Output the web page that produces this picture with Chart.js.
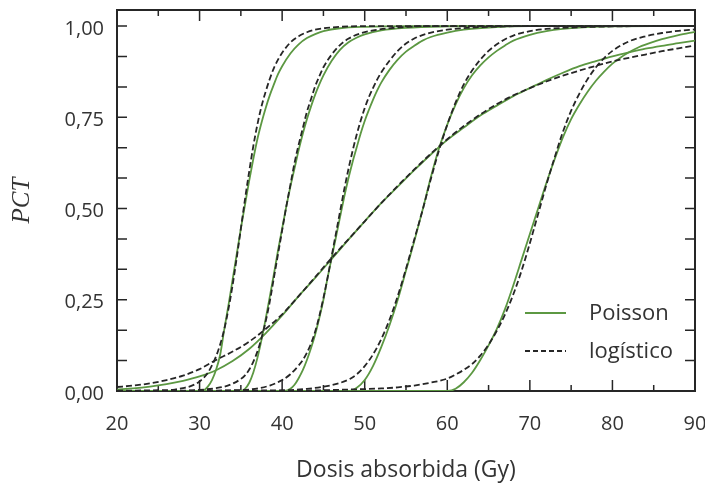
<!DOCTYPE html>
<html>
<head>
<meta charset="utf-8">
<script src="https://cdn.jsdelivr.net/npm/chart.js@4.4.1/dist/chart.umd.min.js"></script>
<style>
    html, body { margin: 0; padding: 0; background: #fff; }
    #wrap { width: 705px; height: 484px; }
</style>
</head>
<body>
<div id="wrap"><canvas id="pctChart" width="705" height="484"></canvas></div>
<script>
// --- Data (dose in Gy, PCT 0..1) ---

let xTickValues = [20, 30, 40, 50, 60, 70, 80, 90];
let yTickValues = [0, 0.25, 0.5, 0.75, 1];
let yTickLabels = ['0,00', '0,25', '0,50', '0,75', '1,00'];

// curve 1
let p1Dose = [20, 30.3, 31, 31.5, 32, 32.5, 33, 33.5, 34, 34.5, 35, 35.5, 36, 36.5, 37, 37.5, 38, 38.5, 39, 39.5, 40, 41, 42, 43, 44, 45, 47, 50, 55, 90];
let p1Pct  = [0, 0, 0.012, 0.03, 0.058, 0.1, 0.17, 0.235, 0.305, 0.375, 0.445, 0.51, 0.575, 0.635, 0.69, 0.735, 0.775, 0.81, 0.84, 0.868, 0.89, 0.925, 0.95, 0.967, 0.978, 0.986, 0.994, 0.998, 1, 1];
let l1Dose = [20, 25, 27, 28, 29, 30, 31, 31.5, 32, 32.5, 33, 33.5, 34, 34.5, 35, 35.5, 36, 36.5, 37, 37.5, 38, 38.5, 39, 39.5, 40, 41, 42, 43, 44, 46, 50, 90];
let l1Pct  = [0.001, 0.002, 0.004, 0.008, 0.014, 0.026, 0.05, 0.07, 0.095, 0.128, 0.17, 0.225, 0.29, 0.365, 0.445, 0.525, 0.6, 0.67, 0.73, 0.78, 0.82, 0.855, 0.885, 0.908, 0.927, 0.955, 0.972, 0.983, 0.99, 0.996, 1, 1];

// curve 2
let p2Dose = [20, 34.9, 35.5, 36, 36.5, 37, 37.5, 38, 38.5, 39, 39.5, 40, 40.5, 41, 41.5, 42, 42.5, 43, 43.5, 44, 44.5, 45, 46, 47, 48, 49, 50, 52, 55, 60, 65, 90];
let p2Pct  = [0, 0, 0.006, 0.022, 0.05, 0.09, 0.14, 0.197, 0.258, 0.32, 0.385, 0.445, 0.505, 0.56, 0.61, 0.66, 0.705, 0.745, 0.78, 0.812, 0.84, 0.865, 0.905, 0.935, 0.955, 0.968, 0.977, 0.988, 0.995, 0.999, 1, 1];
let l2Dose = [20, 28, 30, 32, 33, 34, 35, 35.5, 36, 36.5, 37, 37.5, 38, 38.5, 39, 39.5, 40, 40.5, 41, 41.5, 42, 42.5, 43, 43.5, 44, 44.5, 45, 46, 47, 48, 49.5, 51.5, 54, 58, 90];
let l2Pct  = [0, 0.001, 0.003, 0.008, 0.012, 0.02, 0.033, 0.043, 0.058, 0.08, 0.108, 0.145, 0.19, 0.245, 0.31, 0.375, 0.44, 0.505, 0.565, 0.625, 0.675, 0.72, 0.765, 0.8, 0.835, 0.862, 0.887, 0.922, 0.948, 0.965, 0.98, 0.99, 0.996, 1, 1];

// curve 3
let p3Dose = [20, 40.3, 41, 41.5, 42, 42.5, 43, 43.5, 44, 44.5, 45, 45.5, 46, 46.5, 47, 47.5, 48, 48.5, 49, 49.5, 50, 50.5, 51, 51.5, 52, 53, 54, 55, 56, 57, 58, 60, 62, 65, 70, 90];
let p3Pct  = [0, 0, 0.006, 0.017, 0.035, 0.057, 0.085, 0.118, 0.155, 0.2, 0.25, 0.31, 0.365, 0.42, 0.475, 0.53, 0.58, 0.625, 0.665, 0.705, 0.74, 0.77, 0.798, 0.823, 0.845, 0.88, 0.908, 0.93, 0.946, 0.96, 0.97, 0.982, 0.99, 0.996, 1, 1];
let l3Dose = [20, 34, 36, 37.3, 38.5, 40, 41, 42, 42.5, 43, 43.5, 44, 44.5, 45, 45.5, 46, 46.5, 47, 47.5, 48, 48.5, 49, 49.5, 50, 50.5, 51, 51.5, 52, 53, 54, 55, 56, 57.5, 60, 63, 67, 70, 90];
let l3Pct  = [0, 0.002, 0.004, 0.008, 0.015, 0.03, 0.046, 0.07, 0.085, 0.105, 0.13, 0.163, 0.205, 0.255, 0.31, 0.37, 0.43, 0.49, 0.55, 0.605, 0.655, 0.7, 0.74, 0.775, 0.805, 0.83, 0.853, 0.873, 0.905, 0.932, 0.952, 0.966, 0.979, 0.99, 0.996, 0.999, 1, 1];

// curve 4
let p4Dose = [20, 48.2, 49, 50, 51, 52, 53, 54, 55, 56, 57, 58, 59, 60, 61, 62, 63, 64, 65, 66, 67, 68, 70, 72, 74, 77, 80, 85, 90];
let p4Pct  = [0, 0, 0.008, 0.03, 0.068, 0.12, 0.18, 0.25, 0.33, 0.41, 0.495, 0.585, 0.665, 0.73, 0.785, 0.83, 0.865, 0.892, 0.914, 0.932, 0.947, 0.96, 0.976, 0.986, 0.992, 0.997, 0.999, 1, 1];
let l4Dose = [20, 40, 43, 45.8, 47, 48.2, 49, 50, 51, 52, 53, 54, 55, 56, 57, 58, 59, 60, 61, 62, 63, 64, 65, 66, 67, 68, 70, 72, 75, 80, 85, 90];
let l4Pct  = [0, 0.002, 0.006, 0.015, 0.022, 0.033, 0.045, 0.068, 0.1, 0.142, 0.195, 0.26, 0.335, 0.415, 0.495, 0.58, 0.66, 0.73, 0.79, 0.84, 0.878, 0.908, 0.932, 0.95, 0.964, 0.974, 0.986, 0.992, 0.996, 0.999, 1, 1];

// curve 5
let p5Dose = [20, 60.1, 61, 62, 63, 64, 65, 66, 67, 68, 69, 70, 71, 72, 73, 74, 75, 76, 77, 78, 79, 80, 81, 82, 83, 84.5, 86, 88, 90];
let p5Pct  = [0, 0, 0.006, 0.024, 0.05, 0.085, 0.125, 0.17, 0.225, 0.29, 0.36, 0.43, 0.5, 0.57, 0.635, 0.695, 0.745, 0.785, 0.82, 0.85, 0.875, 0.897, 0.914, 0.928, 0.94, 0.953, 0.964, 0.975, 0.984];
let l5Dose = [20, 40, 45, 48, 52, 54, 56, 58, 60, 61, 62, 63, 64, 65, 66, 67, 68, 69, 70, 71, 72, 73, 74, 75, 76, 77, 78, 79, 80, 82, 84, 86, 88, 90];
let l5Pct  = [0, 0.0005, 0.002, 0.004, 0.007, 0.01, 0.015, 0.023, 0.034, 0.045, 0.058, 0.074, 0.097, 0.127, 0.165, 0.21, 0.265, 0.33, 0.405, 0.485, 0.565, 0.64, 0.71, 0.768, 0.815, 0.855, 0.887, 0.912, 0.932, 0.958, 0.972, 0.981, 0.987, 0.991];

// broad curve
let pbDose = [20, 22, 24, 26, 28, 30, 32, 34, 36, 38, 40, 42, 44, 46, 48, 50, 52, 54, 56, 58, 60, 62, 64, 66, 68, 70, 72, 74, 76, 78, 80, 82, 84, 86, 88, 90];
let pbPct  = [0.004, 0.007, 0.012, 0.019, 0.028, 0.04, 0.057, 0.082, 0.115, 0.158, 0.207, 0.26, 0.31, 0.362, 0.414, 0.465, 0.515, 0.56, 0.605, 0.648, 0.688, 0.722, 0.755, 0.782, 0.808, 0.83, 0.852, 0.872, 0.89, 0.904, 0.917, 0.928, 0.938, 0.946, 0.953, 0.96];
let lbDose = [20, 22, 24, 26, 28, 30, 32, 34, 36, 38, 40, 42, 44, 46, 48, 50, 52, 54, 56, 58, 60, 62, 64, 66, 68, 70, 72, 74, 76, 78, 80, 82, 84, 86, 88, 90];
let lbPct  = [0.011, 0.015, 0.021, 0.03, 0.042, 0.06, 0.085, 0.108, 0.135, 0.17, 0.21, 0.26, 0.312, 0.365, 0.415, 0.465, 0.515, 0.562, 0.607, 0.65, 0.69, 0.726, 0.758, 0.786, 0.81, 0.83, 0.848, 0.864, 0.878, 0.891, 0.903, 0.913, 0.922, 0.931, 0.939, 0.947];

let poissonCurves = [[p1Dose, p1Pct], [p2Dose, p2Pct], [p3Dose, p3Pct], [p4Dose, p4Pct], [p5Dose, p5Pct], [pbDose, pbPct]];
let logisticCurves = [[l1Dose, l1Pct], [l2Dose, l2Pct], [l3Dose, l3Pct], [l4Dose, l4Pct], [l5Dose, l5Pct], [lbDose, lbPct]];

let green = '#5c9842';
let dark = '#262626';
let textColor = '#333333';
let sans = "'Open Sans', sans-serif";

function toPoints(dose, pct) {
    return dose.map((d, i) => ({ x: d, y: pct[i] }));
}

let datasets = [];
logisticCurves.forEach(c => {
    datasets.push({
        label: 'logístico',
        data: toPoints(c[0], c[1]),
        borderColor: dark,
        borderWidth: 1.8,
        borderDash: [6, 3],
        pointRadius: 0,
        fill: false,
        cubicInterpolationMode: 'monotone',
        order: 0
    });
});
poissonCurves.forEach(c => {
    datasets.push({
        label: 'Poisson',
        data: toPoints(c[0], c[1]),
        borderColor: green,
        borderWidth: 1.8,
        pointRadius: 0,
        fill: false,
        cubicInterpolationMode: 'monotone',
        order: 1
    });
});

// frame with inward ticks on all four sides
let framePlugin = {
    id: 'frame',
    beforeDatasetsDraw(chart) {
        let ctx = chart.ctx;
        let a = chart.chartArea;
        let xs = chart.scales.x;
        let ys = chart.scales.y;
        ctx.save();
        ctx.strokeStyle = dark;
        ctx.lineWidth = 1.5;
        for (let v = 25; v < 90; v += 5) {
            let px = xs.getPixelForValue(v);
            let len = v % 10 === 0 ? 11 : 6;
            ctx.beginPath();
            ctx.moveTo(px, a.bottom); ctx.lineTo(px, a.bottom - len);
            ctx.moveTo(px, a.top); ctx.lineTo(px, a.top + len);
            ctx.stroke();
        }
        for (let k = 1; k <= 12; k++) {
            let py = ys.getPixelForValue(k / 12);
            ctx.beginPath();
            ctx.moveTo(a.left, py); ctx.lineTo(a.left + 10, py);
            ctx.moveTo(a.right, py); ctx.lineTo(a.right - 10, py);
            ctx.stroke();
        }
        ctx.lineWidth = 2;
        ctx.strokeRect(a.left, a.top, a.right - a.left, a.bottom - a.top);
        ctx.restore();
    }
};

// legend placed inside the plot, lower right
let legendPlugin = {
    id: 'innerLegend',
    afterDatasetsDraw(chart) {
        let ctx = chart.ctx;
        let items = [
            { text: 'Poisson', color: green, dash: [], y: 313 },
            { text: 'logístico', color: dark, dash: [5, 3], y: 351 }
        ];
        ctx.save();
        ctx.font = '22px ' + sans;
        ctx.textBaseline = 'middle';
        items.forEach(it => {
            ctx.strokeStyle = it.color;
            ctx.lineWidth = 1.8;
            ctx.setLineDash(it.dash);
            ctx.beginPath();
            ctx.moveTo(525, it.y); ctx.lineTo(566, it.y);
            ctx.stroke();
            ctx.setLineDash([]);
            ctx.fillStyle = textColor;
            ctx.fillText(it.text, 589, it.y + 1);
        });
        ctx.restore();
    }
};

let pctChart = new Chart(document.getElementById('pctChart').getContext('2d'), {
    type: 'line',
    data: { datasets: datasets },
    options: {
        responsive: false,
        animation: false,
        devicePixelRatio: 1,
        layout: { padding: { top: 10, right: 10, left: 0, bottom: 0 } },
        plugins: {
            legend: { display: false },
            tooltip: { enabled: false }
        },
        scales: {
            x: {
                type: 'linear',
                min: 20,
                max: 90,
                afterBuildTicks: s => { s.ticks = xTickValues.map(v => ({ value: v })); },
                afterFit: s => { s.height = 93; s.paddingLeft = 0; s.paddingRight = 0; },
                grid: { display: false, drawTicks: false },
                border: { display: false },
                ticks: {
                    padding: 21,
                    color: textColor,
                    font: { size: 20, family: sans },
                    callback: v => String(v)
                },
                title: {
                    display: true,
                    text: 'Dosis absorbida (Gy)',
                    color: textColor,
                    font: { size: 23, family: sans },
                    padding: { top: 0, bottom: 0 }
                }
            },
            y: {
                type: 'linear',
                min: 0,
                max: 1.044,
                afterBuildTicks: s => { s.ticks = yTickValues.map(v => ({ value: v })); },
                afterFit: s => { s.width = 117; s.paddingTop = 0; s.paddingBottom = 0; },
                grid: { display: false, drawTicks: false },
                border: { display: false },
                ticks: {
                    padding: 13,
                    labelOffset: 3,
                    color: textColor,
                    font: { size: 20, family: sans },
                    callback: (v, i) => yTickLabels[i]
                },
                title: {
                    display: true,
                    text: 'PCT',
                    color: textColor,
                    font: { size: 25, family: "'Liberation Serif', serif", style: 'italic' },
                    padding: { top: 7, bottom: 0 }
                }
            }
        }
    },
    plugins: [framePlugin, legendPlugin]
});
</script>
</body>
</html>
